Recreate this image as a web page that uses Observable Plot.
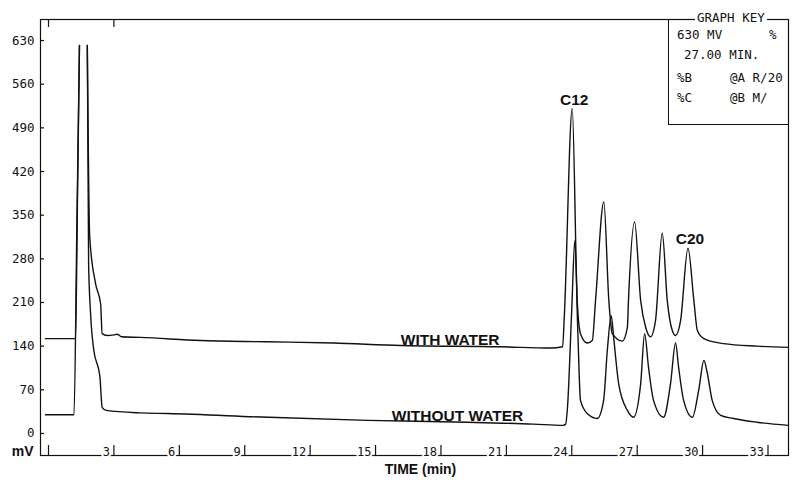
<!DOCTYPE html>
<html>
<head>
<meta charset="utf-8">
<script src="https://cdn.jsdelivr.net/npm/d3@7"></script>
<script src="https://cdn.jsdelivr.net/npm/@observablehq/plot@0.6"></script>
<style>
  html, body { margin: 0; padding: 0; background: #fff; }
  #wrap { position: relative; width: 795px; height: 482px; overflow: hidden; }
  #key { position: absolute; left: 668px; top: 19px; width: 120px; height: 106px;
         border-left: 1.2px solid #111; border-bottom: 1.2px solid #111; box-sizing: border-box; }
  .k { position: absolute; font-family: "DejaVu Sans Mono", monospace; font-size: 12.5px;
       line-height: 13px; color: #111; white-space: pre; }
  #keytitle { background: #fff; padding: 0 2px; }
</style>
</head>
<body>
<div id="wrap"></div>
<script>
// ---- data ----
const seriesNames = ["WITH WATER", "WITHOUT WATER"];

// time (min) and detector signal (mV), "WITH WATER"
const withTime = [-0.14, 1.24, 1.33, 1.42, 1.6, 1.78, 1.89, 2.16, 2.39, 2.46, 2.69, 3.0, 3.15, 3.35, 4.22, 6.97, 10.0, 13.07, 16.15, 20.73, 23.03,
  23.58, 23.66, 24.02, 24.25, 24.40, 24.71, 24.94, 25.09, 25.47, 25.70, 25.86, 26.32, 26.55, 26.6, 26.88, 27.16, 27.39, 27.61, 27.84,
  28.15, 28.38, 28.61, 28.76, 28.99, 29.33, 29.6, 29.76, 30.06, 30.96, 32.51, 33.94];
const withMv = [152, 152, 380, 622, NaN, 622, 315, 240, 208, 160, 157, 158, 159, 155, 154, 149, 147, 145, 141, 139, 137,
  139, 190, 521, 213, 160, 145, 149, 213, 371, 213, 160, 148, 170, 213, 339, 213, 170, 155, 181,
  321, 213, 165, 157, 181, 297, 213, 165, 152, 144, 140, 138];

// "WITHOUT WATER"
const withoutTime = [-0.14, 1.17, 1.3, 1.42, 1.6, 1.78, 1.84, 1.93, 2.08, 2.31, 2.36, 2.46, 2.65, 4.22, 5.46, 10.05, 14.63, 19.22, 22.25, 23.6,
  23.72, 23.8, 24.0, 24.14, 24.28, 24.40, 24.71, 25.17, 25.46, 25.63, 25.81, 25.92, 26.15, 26.55, 26.83, 27.16, 27.34, 27.52, 27.75,
  28.21, 28.53, 28.76, 28.9, 29.13, 29.53, 29.82, 30.06, 30.22, 30.44, 30.83, 31.42, 32.5, 33.94];
const withoutMv = [30, 30, 330, 622, NaN, 622, 272, 192, 133, 101, 90, 42, 37, 33, 32, 26, 21, 18, 15, 13,
  15, 40, 200, 309, 160, 53, 32, 24, 53, 133, 189, 154, 80, 37, 26, 80, 160, 106, 53,
  26, 80, 145, 106, 53, 26, 69, 117, 96, 53, 29, 24, 18, 13];

// axis ticks
const xTicks = [3, 6, 9, 12, 15, 18, 21, 24, 27, 30, 33];
const xTopTicks = [0, 3];
const yTicks = [0, 70, 140, 210, 280, 350, 420, 490, 560, 630];

// annotations: label text, anchored at a point of a curve
const peakLabels = ["C12", "C20"];
const peakTimes = [24.02, 29.33];
const peakMv = [521, 297];
const curveLabelTimes = [18.42, 18.76];
const curveLabelMv = [140, 18];

// ---- build ----
const rows = [
  ...withTime.map((t, i) => ({series: seriesNames[0], t, mv: withMv[i]})),
  ...withoutTime.map((t, i) => ({series: seriesNames[1], t, mv: withoutMv[i]}))
];
const peaks = peakLabels.map((label, i) => ({label, t: peakTimes[i], mv: peakMv[i]}));
const curveLabels = seriesNames.map((label, i) => ({label, t: curveLabelTimes[i], mv: curveLabelMv[i]}));

const W = 795, H = 482, mL = 40, mR = 7, mT = 19, mB = 27;
const frameH = H - mT - mB, frameW = W - mL - mR;
const mono = "'DejaVu Sans Mono', monospace";
const sans = "'Liberation Sans', Arial, Helvetica, sans-serif";
const ink = "#111";

const chart = Plot.plot({
  width: W, height: H,
  marginLeft: mL, marginRight: mR, marginTop: mT, marginBottom: mB,
  x: {domain: [-0.367, 33.94], axis: null},
  y: {domain: [-35.3, 663.7], axis: null},
  style: {background: "#fff", overflow: "visible"},
  marks: [
    Plot.frame({stroke: ink, strokeWidth: 1.2}),
    // x ticks (rising from the bottom edge) and labels sitting on the axis line
    Plot.ruleX([0, ...xTicks], {x: d => d, insetTop: frameH - 10, stroke: ink, strokeWidth: 1.2}),
    Plot.ruleX(xTopTicks, {x: d => d, insetBottom: frameH - 8, stroke: ink, strokeWidth: 1.2}),
    Plot.text(xTicks, {x: d => d, text: d => String(d), frameAnchor: "bottom", textAnchor: "end",
      lineAnchor: "middle", dx: -4, dy: -3, fill: ink, stroke: "#fff", strokeWidth: 4, paintOrder: "stroke",
      fontFamily: mono, fontSize: 12}),
    // y ticks and labels
    Plot.ruleY(yTicks, {y: d => d, insetRight: frameW - 4, stroke: ink, strokeWidth: 1.2}),
    Plot.text(yTicks, {y: d => d, text: d => String(d), frameAnchor: "left", textAnchor: "end",
      dx: -6, fill: ink, fontFamily: mono, fontSize: 12.5}),
    // chromatogram traces
    Plot.line(rows, {x: "t", y: "mv", z: "series", curve: "monotone-x", stroke: ink, strokeWidth: 1.4, strokeLinejoin: "round"}),
    // labels
    Plot.text(peaks, {x: "t", y: "mv", text: "label", lineAnchor: "bottom", dy: -4, dx: 2,
      fontFamily: sans, fontWeight: "bold", fontSize: 15.5, fill: ink}),
    Plot.text(curveLabels, {x: "t", y: "mv", text: "label", lineAnchor: "bottom", dy: -1,
      fontFamily: sans, fontWeight: "bold", fontSize: 15.5, fill: ink}),
    Plot.text(["mV"], {frameAnchor: "bottom-left", textAnchor: "end", lineAnchor: "bottom", dx: -7, dy: 0,
      fontFamily: sans, fontWeight: "bold", fontSize: 14, fill: ink}),
    Plot.text(["TIME (min)"], {frameAnchor: "bottom", lineAnchor: "bottom", dx: 6, dy: 18,
      fontFamily: sans, fontWeight: "bold", fontSize: 14, fill: ink})
  ]
});

const wrap = document.getElementById("wrap");
wrap.appendChild(chart);

// graph key box
const keyLines = [
  {text: "GRAPH KEY", left: 695, top: 11, id: "keytitle"},
  {text: "630 MV", left: 677, top: 28},
  {text: "%", left: 769, top: 28},
  {text: "27.00 MIN.", left: 684, top: 48},
  {text: "%B", left: 677, top: 71},
  {text: "@A R/20", left: 730, top: 71},
  {text: "%C", left: 677, top: 91},
  {text: "@B M/", left: 730, top: 91}
];
const key = document.createElement("div");
key.id = "key";
wrap.appendChild(key);
for (const k of keyLines) {
  const s = document.createElement("span");
  s.className = "k";
  if (k.id) s.id = k.id;
  s.textContent = k.text;
  s.style.left = k.left + "px";
  s.style.top = k.top + "px";
  wrap.appendChild(s);
}
</script>
</body>
</html>
